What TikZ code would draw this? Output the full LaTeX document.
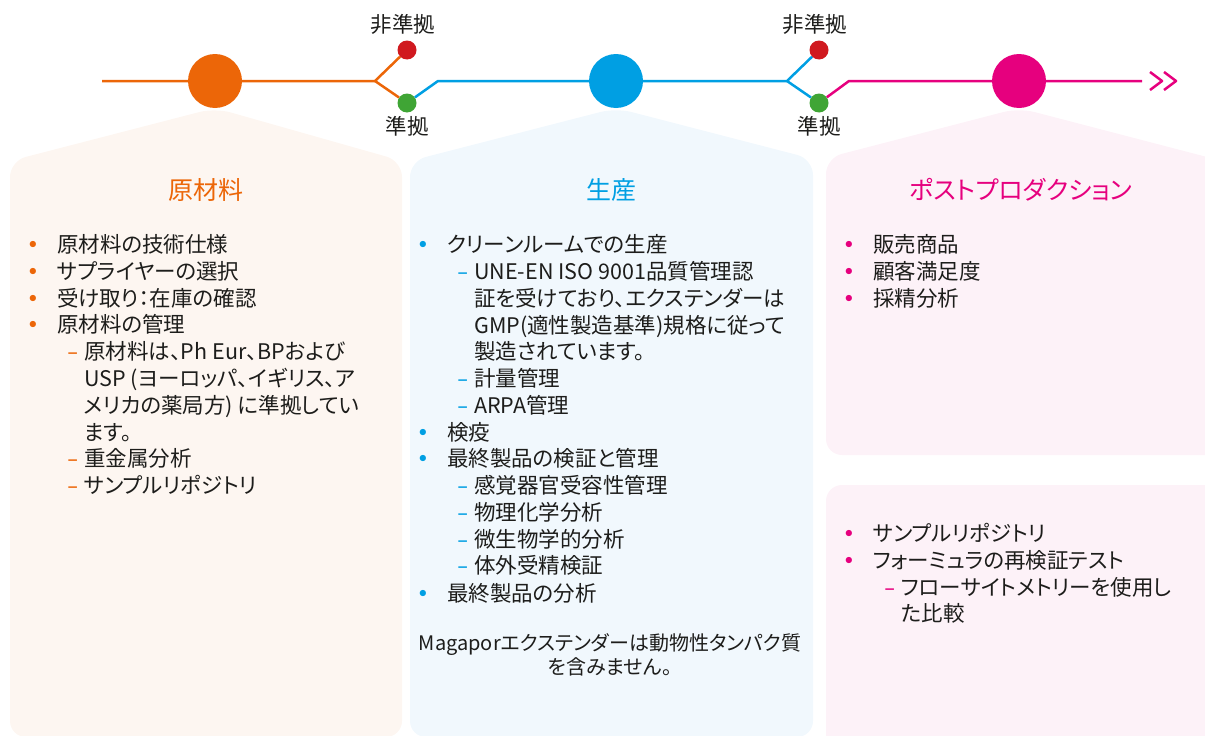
\documentclass[tikz,border=0pt]{standalone}
\usepackage{fontspec}
\setmainfont{Noto Sans CJK JP}[RawFeature=+palt]
\newfontfamily\symfont{DejaVu Sans}
\usetikzlibrary{positioning}

\definecolor{rawc}{HTML}{EC6608}
\definecolor{prodc}{HTML}{009FE3}
\definecolor{postc}{HTML}{E6007E}
\definecolor{nokc}{HTML}{D0191F}
\definecolor{okc}{HTML}{3FA535}
\definecolor{rawbg}{HTML}{FDF6F1}
\definecolor{prodbg}{HTML}{F1F8FD}
\definecolor{postbg}{HTML}{FDF2F8}
\definecolor{ink}{HTML}{1D1D1B}

\newcommand{\bl}[1]{\llap{\textcolor{#1}{\symfont •}\hspace{18pt}}}
\newcommand{\dl}[1]{\llap{\textcolor{#1}{\symfont –}\hspace{6pt}}}

\begin{document}
\begin{tikzpicture}[x=1pt, y=-1pt,
  stage/.style={circle, fill=#1, minimum size=54pt, inner sep=0pt},
  knot/.style={circle, fill=#1, minimum size=19pt, inner sep=0pt},
  track/.style={line width=2.5pt, line join=round},
  lbl/.style={inner sep=0pt, text=ink, font=\fontsize{21.5}{26}\selectfont},
  head/.style={inner sep=0pt, text=#1, font=\fontsize{25}{30}\selectfont},
  txt/.style={anchor=base west, inner sep=0pt, text=ink, font=\fontsize{21.5}{26.8}\selectfont}]
\useasboundingbox (0,0) rectangle (1205,736);

\fill [rawbg, rounded corners=16pt] (10,737) -- (10,161) -- (215,108) -- (402,161) -- (402,737) -- cycle;
\fill [prodbg, rounded corners=16pt] (410,737) -- (410,161) -- (616,108) -- (813,159) -- (813,737) -- cycle;
\fill [postbg, rounded corners=16pt] (826,455) -- (826,158) -- (1019,108) -- (1230,163) -- (1230,455) -- cycle;
\fill [postbg, rounded corners=16pt] (826,485) rectangle (1230,760);

\node (raw) at (215,81) [stage=rawc] {};
\node (prod) at (616,81) [stage=prodc] {};
\node (post) at (1019,81) [stage=postc] {};
\node (nok1) at (407,50) [knot=nokc] {};
\node (ok1) at (407,103) [knot=okc] {};
\node (nok2) at (819,50) [knot=nokc] {};
\node (ok2) at (819,103) [knot=okc] {};
\coordinate (start) at (102,81);
\coordinate (fork1) at (375,81);
\coordinate (bend1) at (438,81);
\coordinate (fork2) at (787,81);
\coordinate (bend2) at (849,81);
\coordinate (finish) at (1142,81);

\draw [rawc, track] (start) -- (raw) -- (fork1) -- (nok1);
\draw [rawc, track] (fork1) -- (ok1);
\draw [prodc, track] (ok1) -- (bend1) -- (prod) -- (fork2) -- (nok2);
\draw [prodc, track] (fork2) -- (ok2);
\draw [postc, track] (ok2) -- (bend2) -- (post) -- (finish);
\draw [postc, track] (finish) ++(8,-9) -- ++(12,9) -- ++(-12,9);
\draw [postc, track] (finish) ++(22,-9) -- ++(12,9) -- ++(-12,9);

\node (nok1l) [lbl, above=6pt of nok1, xshift=-4pt] {非準拠};
\node (ok1l) [lbl, below=3pt of ok1] {準拠};
\node (nok2l) [lbl, above=6pt of nok2, xshift=-4pt] {非準拠};
\node (ok2l) [lbl, below=3pt of ok2] {準拠};

\node (rawh) at (206,190) [head=rawc] {原材料};
\node (prodh) at (611,190) [head=prodc] {生産};
\node (posth) at (1021,190) [head=postc] {ポストプロダクション};

\node (r1) at (57,252) [txt] {\bl{rawc}原材料の技術仕様};
\node (r2) at (57,279) [txt] {\bl{rawc}サプライヤーの選択};
\node (r3) at (57,306) [txt] {\bl{rawc}受け取り：在庫の確認};
\node (r4) at (57,332) [txt] {\bl{rawc}原材料の管理};
\node (r5) at (84,359) [txt] {\dl{rawc}原材料は、Ph Eur、BPおよび};
\node (r5b) at (84,386) [txt] {USP (ヨーロッパ、イギリス、ア};
\node (r5c) at (84,413) [txt] {メリカの薬局方) に準拠してい};
\node (r5d) at (84,440) [txt] {ます。};
\node (r6) at (84,466) [txt] {\dl{rawc}重金属分析};
\node (r7) at (84,493) [txt] {\dl{rawc}サンプルリポジトリ};

\node (p1) at (447,252) [txt] {\bl{prodc}クリーンルームでの生産};
\node (p2) at (474,279) [txt] {\dl{prodc}UNE-EN ISO 9001品質管理認};
\node (p2b) at (474,306) [txt] {証を受けており、エクステンダーは};
\node (p2c) at (474,333) [txt] {GMP(適性製造基準)規格に従って};
\node (p2d) at (474,359) [txt] {製造されています。};
\node (p3) at (474,386) [txt] {\dl{prodc}計量管理};
\node (p4) at (474,413) [txt] {\dl{prodc}ARPA管理};
\node (p5) at (447,440) [txt] {\bl{prodc}検疫};
\node (p6) at (447,466) [txt] {\bl{prodc}最終製品の検証と管理};
\node (p7) at (474,493) [txt] {\dl{prodc}感覚器官受容性管理};
\node (p8) at (474,520) [txt] {\dl{prodc}物理化学分析};
\node (p9) at (474,547) [txt] {\dl{prodc}微生物学的分析};
\node (p10) at (474,573) [txt] {\dl{prodc}体外受精検証};
\node (p11) at (447,601) [txt] {\bl{prodc}最終製品の分析};
\node (pnote) at (610,655) [inner sep=0pt, text=ink, align=center, font=\fontsize{20}{24.5}\selectfont] {Magaporエクステンダーは動物性タンパク質\\を含みません。};

\node (q1) at (873,252) [txt] {\bl{postc}販売商品};
\node (q2) at (873,279) [txt] {\bl{postc}顧客満足度};
\node (q3) at (873,306) [txt] {\bl{postc}採精分析};
\node (q4) at (873,541) [txt] {\bl{postc}サンプルリポジトリ};
\node (q5) at (873,568) [txt] {\bl{postc}フォーミュラの再検証テスト};
\node (q6) at (901,595) [txt] {\dl{postc}フローサイトメトリーを使用し};
\node (q6b) at (901,621) [txt] {た比較};
\end{tikzpicture}
\end{document}
